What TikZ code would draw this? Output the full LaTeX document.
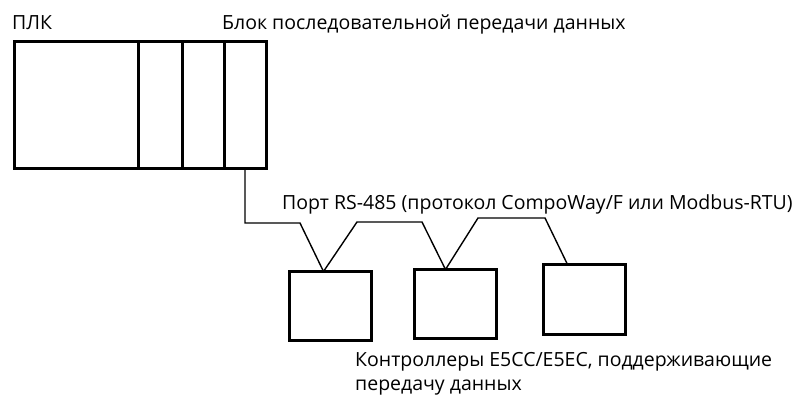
\documentclass[tikz,border=0pt]{standalone}
\usepackage{fontspec}
\setmainfont{Open Sans}
\usetikzlibrary{positioning}
\begin{document}
\begin{tikzpicture}[x=1pt, y=-1pt, font=\fontsize{19.5}{23.5}\selectfont,
    cell/.style={draw, line width=3pt, inner sep=0pt, outer sep=0pt, minimum height=127.5pt},
    ctrl/.style={draw, line width=3pt, inner sep=0pt, outer sep=0pt, minimum width=82pt, minimum height=69pt, anchor=north},
    wire/.style={line width=1.4pt},
    lbl/.style={inner sep=0pt, anchor=base west}]

  \useasboundingbox (0,0) rectangle (798,398);

  % --- ПЛК и блок последовательной передачи ---
  \node[cell, minimum width=123.5pt, anchor=north west] (cpu) at (14.5,41.5) {};
  \node[cell, minimum width=44pt, right=0pt of cpu] (slota) {};
  \node[cell, minimum width=42pt, right=0pt of slota] (slotb) {};
  \node[cell, minimum width=42pt, right=0pt of slotb] (slotc) {};
  \node[lbl] (plc) at (12,30) {ПЛК};
  \node[lbl] (sbu) at (222,30) {Блок последовательной передачи данных};

  % --- Контроллеры ---
  \node[ctrl] (ctla) at (330.5,271.5) {};
  \node[ctrl] (ctlb) at (455.5,269.5) {};
  \node[ctrl, minimum height=70pt] (ctlc) at (584.5,264.5) {};

  % --- Линия RS-485 ---
  \coordinate (wa) at (300,223);
  \coordinate (wb) at (357,222);
  \coordinate (wc) at (422,222);
  \coordinate (wd) at (478,218);
  \coordinate (we) at (545,218);
  \draw[wire] (slotc.south) |- (wa) -- ([xshift=-7pt]ctla.north) -- (wb) -- (wc)
      -- ([xshift=-10pt]ctlb.north) -- (wd) -- (we) -- ([xshift=-17pt]ctlc.north);
  \node[lbl] (port) at (282,210) {Порт RS-485 (протокол CompoWay/F или Modbus-RTU)};

  \node[lbl, align=left] (ctltext) at (355,390)
      {Контроллеры E5CC/E5EC, поддерживающие\\передачу данных};

\end{tikzpicture}
\end{document}
